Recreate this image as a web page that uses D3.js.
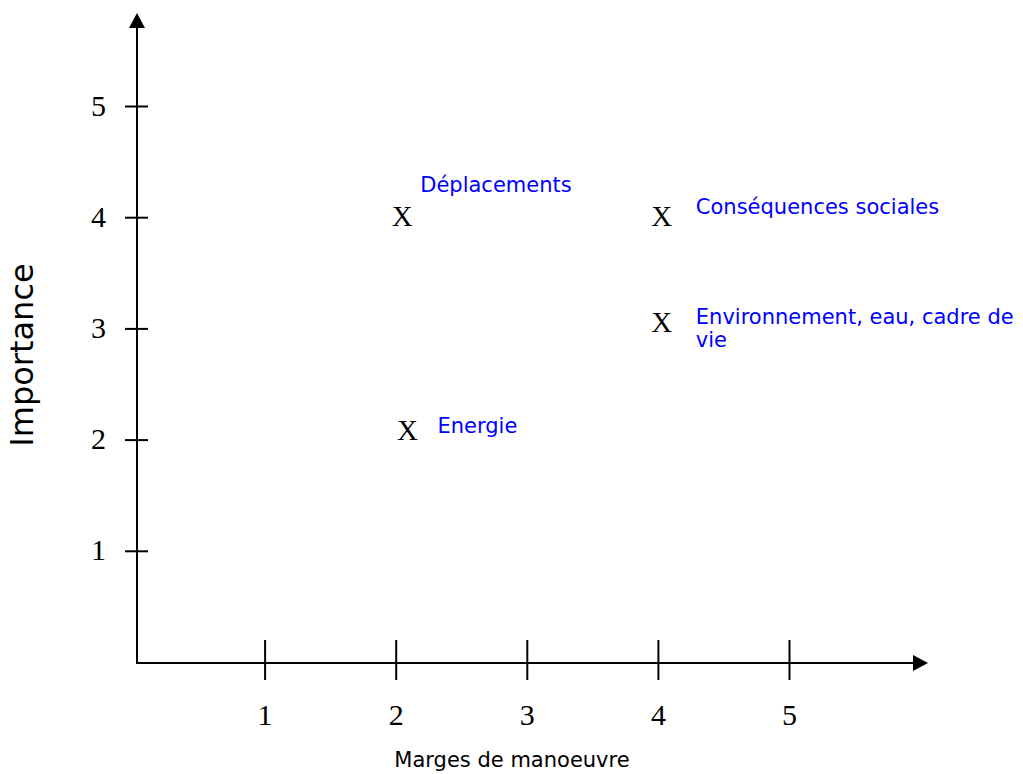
<!DOCTYPE html>
<html>
<head>
<meta charset="utf-8">
<script src="https://cdn.jsdelivr.net/npm/d3@7"></script>
<style>
  body { margin: 0; background: #fff; }
  .tick-num { font-family: "Liberation Serif", "Times New Roman", serif; font-size: 30px; fill: #000; }
  .mark { font-family: "Liberation Serif", "Times New Roman", serif; font-size: 29px; fill: #000; }
  .lbl { font-family: "DejaVu Sans", Verdana, sans-serif; font-size: 21px; fill: #0000ff; }
  .title { font-family: "DejaVu Sans", Verdana, sans-serif; fill: #000; }
</style>
</head>
<body>
<script>
var w = 1023;
var h = 774;

// data
const xTicks = [1, 2, 3, 4, 5];
const yTicks = [1, 2, 3, 4, 5];
const names = ["Déplacements", "Conséquences sociales", "Environnement, eau, cadre de vie", "Energie"];
const marges = [2.05, 4.03, 4.03, 2.09];
const importance = [4.0, 4.0, 3.05, 2.08];

// where each label sits relative to its X (layout only)
const labelLines = [["Déplacements"], ["Conséquences sociales"], ["Environnement, eau, cadre de", "vie"], ["Energie"]];
const labelDx = [18, 34, 34, 30];
const labelDy = [-25, -3, 1, 2];

const originX = 137;
const originY = 663;

const xScale = d3.scaleLinear().domain([0, 5]).range([133.5, 789]);
const yScale = d3.scaleLinear().domain([0, 5]).range([662, 106]);

var svg = d3.select("body")
            .append("svg")
            .attr("width", w)
            .attr("height", h);

// axis lines with arrows
svg.append("line")
    .attr("x1", originX).attr("y1", originY)
    .attr("x2", originX).attr("y2", 26)
    .attr("stroke", "#000").attr("stroke-width", 2);
svg.append("path")
    .attr("d", `M${originX},13 L${originX - 8},28 L${originX + 8},28 Z`)
    .attr("fill", "#000");

svg.append("line")
    .attr("x1", originX - 1).attr("y1", originY)
    .attr("x2", 915).attr("y2", originY)
    .attr("stroke", "#000").attr("stroke-width", 2);
svg.append("path")
    .attr("d", `M928,${originY} L913,${originY - 8} L913,${originY + 8} Z`)
    .attr("fill", "#000");

// x axis ticks
const xAxis = d3.axisBottom(xScale).tickValues(xTicks).tickSize(0).tickFormat(d3.format("d"));
const gx = svg.append("g")
    .attr("transform", `translate(0, ${originY})`)
    .call(xAxis);
gx.select(".domain").remove();
gx.selectAll(".tick line")
    .attr("y1", -23).attr("y2", 17)
    .attr("stroke", "#000").attr("stroke-width", 2);
gx.selectAll(".tick text")
    .attr("class", "tick-num")
    .attr("y", 62).attr("dy", 0)
    .attr("font-family", null).attr("font-size", null);
gx.attr("font-family", null).attr("font-size", null);

// y axis ticks
const yAxis = d3.axisLeft(yScale).tickValues(yTicks).tickSize(0).tickFormat(d3.format("d"));
const gy = svg.append("g")
    .attr("transform", `translate(${originX}, 0)`)
    .call(yAxis);
gy.select(".domain").remove();
gy.selectAll(".tick line")
    .attr("x1", -12).attr("x2", 11)
    .attr("stroke", "#000").attr("stroke-width", 2);
gy.selectAll(".tick text")
    .attr("class", "tick-num")
    .attr("x", -31).attr("dy", 0).attr("y", 9)
    .attr("font-family", null).attr("font-size", null);
gy.attr("font-family", null).attr("font-size", null);

// points drawn as "X"
const pts = names.map((n, i) => ({ name: n, x: marges[i], y: importance[i], i: i }));

svg.selectAll(".mark")
    .data(pts)
    .enter()
    .append("text")
    .attr("class", "mark")
    .attr("text-anchor", "middle")
    .attr("x", d => xScale(d.x))
    .attr("y", d => yScale(d.y) + 9)
    .text("X");

const lbl = svg.selectAll(".lbl")
    .data(pts)
    .enter()
    .append("text")
    .attr("class", "lbl")
    .attr("x", d => xScale(d.x) + labelDx[d.i])
    .attr("y", d => yScale(d.y) + labelDy[d.i]);

lbl.selectAll("tspan")
    .data(d => labelLines[d.i].map((t, k) => ({ t: t, k: k, x: xScale(d.x) + labelDx[d.i] })))
    .enter()
    .append("tspan")
    .attr("x", d => d.x)
    .attr("dy", d => d.k === 0 ? 0 : 23)
    .text(d => d.t);

// axis titles
svg.append("text")
    .attr("class", "title")
    .attr("x", 512).attr("y", 767)
    .attr("text-anchor", "middle")
    .attr("font-size", 21)
    .text("Marges de manoeuvre");

svg.append("text")
    .attr("class", "title")
    .attr("transform", "translate(33, 355) rotate(-90)")
    .attr("text-anchor", "middle")
    .attr("font-size", 32)
    .text("Importance");
</script>
</body>
</html>
